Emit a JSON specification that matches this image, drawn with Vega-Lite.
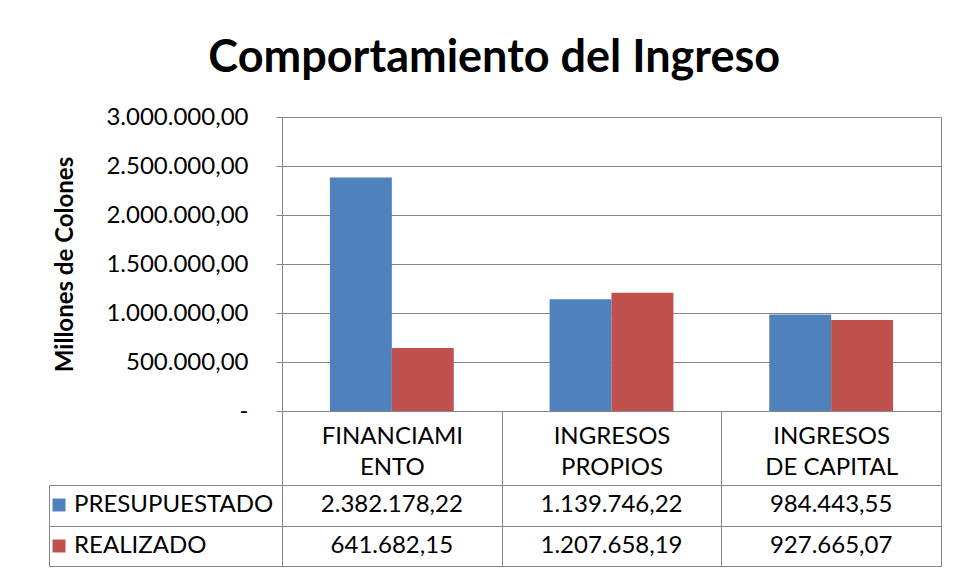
{
  "$schema": "https://vega.github.io/schema/vega-lite/v6.json",
  "padding": {"left": 46, "right": 14, "top": 35, "bottom": 10},
  "background": "white",
  "title": {"text": "Comportamiento del Ingreso", "font": "Lato", "fontSize": 45, "fontWeight": "bold", "anchor": "middle", "color": "black", "offset": 24},
  "datasets": {
    "ingresos": [
      {"categoria": "FINANCIAMIENTO", "serie": "PRESUPUESTADO", "valor": 2382178.22},
      {"categoria": "INGRESOS PROPIOS", "serie": "PRESUPUESTADO", "valor": 1139746.22},
      {"categoria": "INGRESOS DE CAPITAL", "serie": "PRESUPUESTADO", "valor": 984443.55},
      {"categoria": "FINANCIAMIENTO", "serie": "REALIZADO", "valor": 641682.15},
      {"categoria": "INGRESOS PROPIOS", "serie": "REALIZADO", "valor": 1207658.19},
      {"categoria": "INGRESOS DE CAPITAL", "serie": "REALIZADO", "valor": 927665.07}
    ]
  },
  "columns": 2,
  "spacing": {"row": 74, "column": 0},
  "bounds": "flush",
  "resolve": {"scale": {"color": "independent", "x": "independent", "y": "independent"}, "legend": {"color": "independent"}},
  "concat": [
    {
      "width": 233, "height": 294,
      "view": {"stroke": null},
      "data": {"values": [{}]},
      "mark": {"type": "text"},
      "encoding": {"text": {"value": ""}}
    },
    {
      "width": 659, "height": 294,
      "data": {"name": "ingresos"},
      "mark": {"type": "bar"},
      "encoding": {
        "x": {
          "field": "categoria", "type": "nominal",
          "sort": ["FINANCIAMIENTO", "INGRESOS PROPIOS", "INGRESOS DE CAPITAL"],
          "scale": {"paddingInner": 0, "paddingOuter": 0},
          "axis": {
            "title": null, "labelAngle": 0, "tickBand": "extent", "tickSize": 74,
            "tickColor": "#868686", "domainColor": "#868686", "labelPadding": -61,
            "labelFontSize": 24, "labelLineHeight": 31, "labelColor": "black", "grid": false,
            "labelExpr": "datum.value == 'FINANCIAMIENTO' ? ['FINANCIAMI', 'ENTO'] : (datum.value == 'INGRESOS PROPIOS' ? ['INGRESOS', 'PROPIOS'] : (datum.value == 'INGRESOS DE CAPITAL' ? ['INGRESOS', 'DE CAPITAL'] : ''))"
          }
        },
        "xOffset": {"field": "serie", "type": "nominal", "sort": ["PRESUPUESTADO", "REALIZADO"], "scale": {"paddingInner": 0, "paddingOuter": 0.774}},
        "y": {
          "field": "valor", "type": "quantitative",
          "scale": {"domain": [0, 3000000], "nice": false},
          "axis": {
            "title": "Millones de Colones", "titleFontSize": 24, "titleFontWeight": "bold", "titleColor": "black", "titlePadding": 28,
            "values": [0, 500000, 1000000, 1500000, 2000000, 2500000, 3000000],
            "labelExpr": "datum.value == 0 ? '-\u2007\u2009' : format(datum.value, ',.2f')",
            "labelFontSize": 24, "labelColor": "black", "labelPadding": 28, "tickSize": 6,
            "domain": false, "gridColor": "#868686", "tickColor": "#868686"
          }
        },
        "color": {"field": "serie", "type": "nominal", "scale": {"domain": ["PRESUPUESTADO", "REALIZADO"], "range": ["#4F81BD", "#C0504D"]}, "legend": null}
      }
    },
    {
      "width": 233, "height": 81,
      "data": {"name": "ingresos"},
      "mark": {"type": "rect", "opacity": 0},
      "encoding": {
        "y": {
          "field": "serie", "type": "nominal", "sort": ["PRESUPUESTADO", "REALIZADO"],
          "scale": {"type": "band", "paddingInner": 0, "paddingOuter": 0},
          "axis": {"title": null, "labels": false, "ticks": false, "domain": false, "grid": true, "tickBand": "extent", "gridColor": "#868686"}
        },
        "color": {
          "field": "serie", "type": "nominal",
          "scale": {"domain": ["PRESUPUESTADO", "REALIZADO"], "range": ["#4F81BD", "#C0504D"]},
          "legend": {"orient": "none", "legendX": -2, "legendY": 8, "title": null, "symbolType": "square", "symbolSize": 169, "symbolOpacity": 1, "symbolStrokeWidth": 0, "labelFontSize": 24, "labelFont": "Lato", "labelColor": "black", "labelLimit": 0, "rowPadding": 17, "padding": 0, "labelOffset": 3}
        }
      }
    },
    {
      "width": 659, "height": 81,
      "data": {"name": "ingresos"},
      "mark": {"type": "text", "fontSize": 24, "color": "black"},
      "encoding": {
        "x": {
          "field": "categoria", "type": "nominal",
          "sort": ["FINANCIAMIENTO", "INGRESOS PROPIOS", "INGRESOS DE CAPITAL"],
          "scale": {"type": "band", "paddingInner": 0, "paddingOuter": 0},
          "axis": {"title": null, "labels": false, "ticks": false, "domain": false, "grid": true, "tickBand": "extent", "gridColor": "#868686"}
        },
        "y": {
          "field": "serie", "type": "nominal", "sort": ["PRESUPUESTADO", "REALIZADO"],
          "scale": {"type": "band", "paddingInner": 0, "paddingOuter": 0},
          "axis": {"title": null, "labels": false, "ticks": false, "domain": false, "grid": true, "tickBand": "extent", "gridColor": "#868686"}
        },
        "text": {"field": "valor", "type": "quantitative", "format": ",.2f"}
      }
    }
  ],
  "config": {
    "locale": {"number": {"decimal": ",", "thousands": ".", "grouping": [3], "currency": ["", ""]}},
    "font": "Lato",
    "view": {"stroke": "#868686"},
    "axis": {"labelFont": "Lato", "titleFont": "Lato"}
  }
}
